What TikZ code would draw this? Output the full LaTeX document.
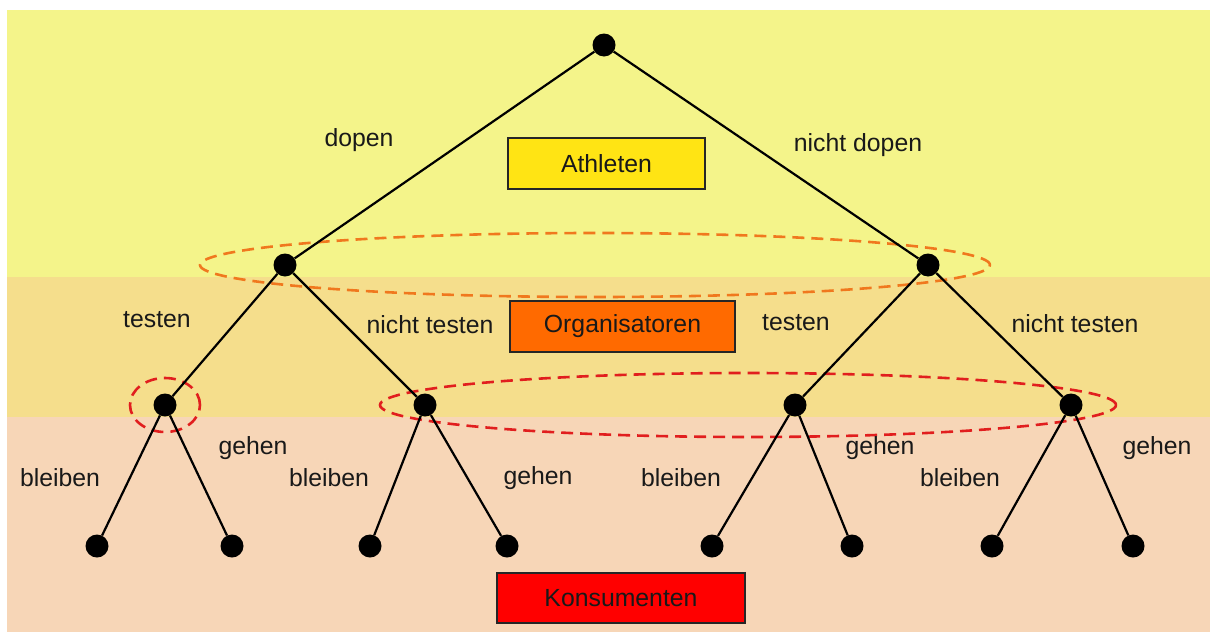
\documentclass[tikz,border=0pt]{standalone}
\usepackage{fontspec}
\setmainfont{Liberation Sans}
\definecolor{bandtop}{RGB}{244,244,138}
\definecolor{bandmid}{RGB}{245,222,140}
\definecolor{bandlow}{RGB}{247,214,183}
\definecolor{athfill}{RGB}{255,228,20}
\definecolor{orgfill}{RGB}{255,106,0}
\definecolor{konfill}{RGB}{255,0,0}
\definecolor{setorange}{RGB}{240,120,30}
\definecolor{setred}{RGB}{225,30,30}
\begin{document}
\begin{tikzpicture}[x=1pt,y=-1pt,
  dot/.style={circle,fill=black,minimum size=23pt,inner sep=0pt},
  branch/.style={line width=2.2pt,black},
  lbl/.style={font=\fontsize{24.8}{29}\selectfont,text=black!90,inner sep=0pt},
  player/.style={draw=black!85,line width=2pt,inner sep=0pt,font=\fontsize{24.8}{29}\selectfont,text=black!90},
  infoset/.style={dash pattern=on 12pt off 7pt,line width=2.6pt}]
\useasboundingbox (0,0) rectangle (1210,632);
\fill[white] (0,0) rectangle (1210,632);
% background bands for the three players
\fill[bandtop] (7,10) rectangle (1210,277);
\fill[bandmid] (7,277) rectangle (1210,417);
\fill[bandlow] (7,417) rectangle (1210,632);

% player boxes
\node[player,fill=athfill,minimum width=197pt,minimum height=51pt] (ath) at (606.5,163.5) {Athleten};
\node[player,fill=orgfill,minimum width=225pt,minimum height=51pt] (org) at (622.5,326.5) {Organisatoren};
\node[player,fill=konfill,minimum width=248pt,minimum height=50pt] (kon) at (621,598) {Konsumenten};

% information sets
\draw[infoset,setorange] (595,265) ellipse [x radius=395pt,y radius=32pt];
\draw[infoset,setred] (165,405) ellipse [x radius=35pt,y radius=27pt];
\draw[infoset,setred] (748,405) ellipse [x radius=368pt,y radius=32pt];

% decision nodes
\node[dot] (r) at (604,45) {};
\node[dot] (a) at (285,265) {};
\node[dot] (b) at (928,265) {};
\node[dot] (aa) at (165,405) {};
\node[dot] (ab) at (425,405) {};
\node[dot] (ba) at (795,405) {};
\node[dot] (bb) at (1071,405) {};
% terminal nodes
\node[dot] (t1) at (97,546) {};
\node[dot] (t2) at (232,546) {};
\node[dot] (t3) at (370,546) {};
\node[dot] (t4) at (507,546) {};
\node[dot] (t5) at (712,546) {};
\node[dot] (t6) at (852,546) {};
\node[dot] (t7) at (992,546) {};
\node[dot] (t8) at (1133,546) {};

% branches
\draw[branch] (r) -- (a);
\draw[branch] (r) -- (b);
\draw[branch] (a) -- (aa);
\draw[branch] (a) -- (ab);
\draw[branch] (b) -- (ba);
\draw[branch] (b) -- (bb);
\draw[branch] (aa) -- (t1);
\draw[branch] (aa) -- (t2);
\draw[branch] (ab) -- (t3);
\draw[branch] (ab) -- (t4);
\draw[branch] (ba) -- (t5);
\draw[branch] (ba) -- (t6);
\draw[branch] (bb) -- (t7);
\draw[branch] (bb) -- (t8);

% action labels
\node[lbl] (l1) at (359,140) {dopen};
\node[lbl] (l2) at (858,145) {nicht dopen};
\node[lbl] (l3) at (157,320) {testen};
\node[lbl] (l4) at (430,325) {nicht testen};
\node[lbl] (l5) at (796,323) {testen};
\node[lbl] (l6) at (1075,324) {nicht testen};
\node[lbl] (l7) at (60,478) {bleiben};
\node[lbl] (l8) at (253,448) {gehen};
\node[lbl] (l9) at (329,478) {bleiben};
\node[lbl] (l10) at (538,478) {gehen};
\node[lbl] (l11) at (681,478) {bleiben};
\node[lbl] (l12) at (880,448) {gehen};
\node[lbl] (l13) at (960,478) {bleiben};
\node[lbl] (l14) at (1157,448) {gehen};
\end{tikzpicture}
\end{document}
